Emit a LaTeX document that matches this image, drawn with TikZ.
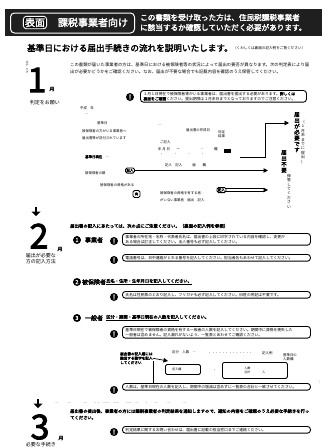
\documentclass[tikz,border=0pt]{standalone}
\usepackage{fontspec}
\setmainfont{Noto Sans CJK JP}[AutoFakeBold=2.5]
\XeTeXlinebreaklocale "ja"
\XeTeXlinebreakskip=0pt plus 0.5pt
\usetikzlibrary{arrows.meta,calc}
\begin{document}
\begin{tikzpicture}[x=1pt,y=-1pt,
 txt/.style={font=\fontsize{4.3}{6.5}\selectfont, inner sep=0pt, anchor=north west, align=left},
 tiny/.style={font=\fontsize{3.4}{4.2}\selectfont, inner sep=0pt, anchor=north west, align=left},
 note/.style={draw, line width=0.9pt, rounded corners=3pt, inner xsep=3pt, inner ysep=1.6pt, anchor=north west, font=\fontsize{3.8}{5}\selectfont, align=left, text width=182pt},
 bang/.style={circle, fill=black, text=white, inner sep=0pt, minimum size=8pt, font=\fontsize{6.5}{6.5}\bfseries\selectfont},
 num/.style={circle, fill=black, text=white, inner sep=0pt, minimum size=8pt, font=\fontsize{5.5}{5.5}\bfseries\selectfont},
 bignum/.style={font=\fontsize{34}{34}\bfseries\selectfont, inner sep=0pt},
 steplbl/.style={font=\fontsize{5}{6}\selectfont, inner sep=0pt, align=center},
 vert/.style={font=\fontsize{5.5}{5.9}\bfseries\selectfont, inner sep=0pt, align=center, anchor=north},
 vsmall/.style={font=\fontsize{3.8}{4.4}\selectfont, inner sep=0pt, align=center, anchor=north},
 smallbox/.style={draw, line width=0.9pt, rounded corners=1.5pt, inner sep=1pt, font=\fontsize{3.5}{4}\bfseries\selectfont},
 arr/.style={-{Triangle[length=4.5pt,width=4.5pt]}, line width=0.9pt},
 downarr/.style={fill=black}]
\useasboundingbox (0,0) rectangle (328,448);
\fill[white] (0,0) rectangle (328,448);

% ---------- header ----------
\node[fill=black!88, minimum width=317pt, minimum height=27pt, anchor=north west, inner sep=0pt] (hdr) at (5,9) {};
\node[draw=white, line width=1pt, rounded corners=4pt, minimum width=124pt, minimum height=20pt, anchor=north west, inner sep=0pt] (hbox) at (10,12.5) {};
\node[draw=white, fill=black, line width=0.9pt, rounded corners=3pt, text=white, font=\fontsize{10}{10}\bfseries\selectfont, inner sep=1.6pt] (omote) at (35,22.5) {表面};
\node[text=white, font=\fontsize{10}{10}\bfseries\selectfont, inner sep=0pt] (kazei) at (93,22.5) {課税事業者向け};
\node[text=white, font=\fontsize{7.6}{10}\bfseries\selectfont, align=left, anchor=west, inner sep=0pt] (hdrtxt) at (140,22.5) {この書類を受け取った方は、住民税課税事業者\\に該当するか確認していただく必要があります。};

\node[font=\fontsize{8.6}{9}\bfseries\selectfont, inner sep=0pt, anchor=west] (sub) at (27,48) {基準日における届出手続きの流れを説明いたします。};
\node[font=\fontsize{3.6}{4}\selectfont, inner sep=0pt, anchor=west] (subp) at (sub.east) {（くわしくは裏面の\\記入例をご覧ください）};

% ---------- step 1 ----------
\node[vsmall, font=\fontsize{3}{3.4}\selectfont] (s1top) at (27,61) {ス\\テ\\ッ\\プ};
\node[bignum] (n1) at (37,80) {1};
\node[font=\fontsize{5}{5}\bfseries\selectfont, inner sep=0pt] (m1) at (52,89) {月};
\node[steplbl] (l1) at (45,103) {判定をお願い};

\node[txt, text width=240pt] (p1) at (70,63) {この書類が届いた事業者の方は、基準日における被保険者等の状況によって届出の要否が異なります。次の判定表により届出が必要かどうかをご確認ください。なお、届出が不要な場合でも記載内容を確認のうえ保管してください。};

\node[bang] (b1) at (130,97) {!};
\node[note, text width=160pt] (t1) at (140,90) {１月１日現在で被保険者等がいる事業者は、届出書を提出する必要があります。\textbf{詳しくは}\\\textbf{裏面をご確認}ください。提出期限は１月末日までとなっておりますのでご注意ください。};

% flow labels
\node[tiny] (f1) at (80,106) {平成　年};
\node[tiny] (f2) at (85,114) {―};
\node[tiny] (f3) at (97,121) {基準日};
\node[tiny] (f4) at (82,129) {被保険者の方がいる事業者へ};
\node[tiny] (f5) at (82,136) {届出書等が送付されています};
\node[tiny] (f6) at (158,125) {―};
\node[tiny] (f7) at (186,128) {届出書の作成日};
\node[tiny] (f8) at (218,130) {判定\\結果};
\node[tiny] (f9) at (160,140) {ご記入};
\node[tiny] (f10) at (158,147) {年 月 日　　一　　　　　　―　　　欄};
\node[tiny] (f11) at (160,154) {・　　　・　　　・　　　・　　};
\node[fill=black, minimum width=7pt, minimum height=4pt, inner sep=0pt] (f12) at (227,151) {};
\node[tiny] (f13) at (165,163) {記入　記入　　　届　　欄};
\node[tiny] (f14) at (85,155) {\textbf{基準日現在}　―};
\node[tiny] (f15) at (85,171) {被保険者の数};
\node[tiny] (f16) at (100,183) {被保険者の資格がある};
\node[tiny] (f17) at (160,191) {被保険者の資格を有する者};
\node[tiny] (f18) at (160,198) {がいない事業者　届出　記入};

\node[smallbox] (bx1) at (130,170.5) {記入};
\node[smallbox, minimum width=7pt, minimum height=7pt] (bx2) at (136.5,194) {有};
\node[smallbox] (bx3) at (221.5,190) {記入};

% vertical result labels
\node[vert] (v1) at (297,112) {届\\出\\が\\必\\要\\で\\す};
\node[vsmall] (v1b) at (303,120) {（\\１\\月\\末\\ま\\で\\に\\提\\出\\）};
\node[vert] (v2) at (284,150) {届\\出\\不\\要};
\node[vsmall] (v2b) at (289,174) {保\\管\\し\\て\\く\\だ\\さ\\い};

\coordinate (c1) at (240,157);
\coordinate (c2) at (265,157);
\coordinate (c3) at (265,123);
\coordinate (c4) at (289,123);
\draw[line width=0.9pt] (c1) -- (c2) -- (c3);
\draw[arr] (c3) -- (c4);
\coordinate (e1) at (268,170.5);
\draw[arr] (bx1.east) -- (e1);
\coordinate (e2) at (268,190);
\draw[line width=0.8pt] ($(bx3.east)+(0,-1.3)$) -- ($(e2)+(-4,-1.3)$);
\draw[line width=0.8pt] ($(bx3.east)+(0,1.3)$) -- ($(e2)+(-4,1.3)$);
\draw[arr] ($(e2)+(-4,0)$) -- (e2);

% ---------- step 2 ----------
\coordinate (da2) at (36,212);
\fill[downarr] ($(da2)+(-1.3,-5)$) rectangle ($(da2)+(1.3,0)$);
\fill[downarr] ($(da2)+(-4.5,-0.5)$) -- ($(da2)+(4.5,-0.5)$) -- ($(da2)+(0,4)$) -- cycle;
\node[bignum] (n2) at (39,236) {2};
\node[font=\fontsize{5}{5}\bfseries\selectfont, inner sep=0pt] (m2) at (60,249) {月};
\node[steplbl] (l2) at (41,259) {届出が必要な\\方の記入方法};

\node[font=\fontsize{4.4}{5}\bfseries\selectfont, inner sep=0pt, anchor=west] (h2) at (70,226) {届出書の記入にあたっては、次の点にご注意ください。（裏面の記入例を参照）};

\node[num] (k1) at (77,240) {1};
\node[font=\fontsize{6}{6}\bfseries\selectfont, inner sep=0pt] (k1t) at (94,240) {事業者};
\node[bang] (b2) at (114,241) {!};
\node[note] (t2) at (122,233) {事業者の所在地・名称・代表者氏名は、届出書の上段に印字されている内容を確認し、変更が\\ある場合は訂正してください。法人番号も必ず記入してください。};
\node[bang] (b3) at (114,260) {!};
\node[note] (t3) at (122,254) {電話番号は、日中連絡がとれる番号を記入してください。担当者名もあわせて記入してください。};

\node[num] (k2) at (77,282) {2};
\node[font=\fontsize{6}{6}\bfseries\selectfont, inner sep=0pt] (k2t) at (94,282) {被保険者};
\node[font=\fontsize{4.3}{5}\bfseries\selectfont, inner sep=0pt, anchor=west] (k2u) at (106,282) {\underline{氏名・住所・生年月日を記入してください。}};
\node[bang] (b4) at (114,297) {!};
\node[note] (t4) at (122,291) {氏名は住民票のとおり記入し、フリガナも必ず記入してください。旧姓の併記は不要です。};

\node[num] (k3) at (77,318) {3};
\node[font=\fontsize{6}{6}\bfseries\selectfont, inner sep=0pt] (k3t) at (94,318) {一般者};
\node[font=\fontsize{4.3}{5}\bfseries\selectfont, inner sep=0pt, anchor=west] (k3u) at (106,318) {\underline{区分・期間・基準日現在の人数を記入}してください。};
\node[bang] (b5) at (114,334) {!};
\node[note] (t5) at (122,326) {基準日現在で被保険者の資格を有する一般者の人数を記入してください。期間中に資格を喪失した\\一般者は含めません。記入漏れがないよう、一覧表とあわせてご確認ください。};

% form-like detail
\node[tiny, font=\fontsize{3.6}{4.4}\bfseries\selectfont] (g1) at (120,352) {届出書の記入欄には\\該当する数字を記入\\してください};
\node[tiny] (g2) at (172,350) {区分　人数　―};
\node[tiny] (g3) at (208,353) {・・・・・・・・・・・・・};
\node[tiny] (g4) at (262,351) {記入例};
\node[tiny] (g5) at (283,353) {基準日の\\人数欄};
\node[smallbox, minimum width=35pt, minimum height=10pt, font=\fontsize{3}{3.5}\selectfont, anchor=north west] (bx4) at (165,364) {記入欄　　　　};
\node[draw, line width=0.9pt, rounded corners=2pt, minimum width=65pt, minimum height=16pt, anchor=north west, inner sep=1pt, font=\fontsize{3}{4}\selectfont, align=left] (bx5) at (222,362) {人数\\合計　　　　人};
\node[tiny] (g6) at (213,370) {・};
\coordinate (g7) at (168,361);
\draw[arr, line width=0.7pt] ($(g1.east)+(0,0)$) -- (g7);
\node[bang] (b6) at (114,390) {!};
\node[note] (t6) at (122,383) {人数は、基準日現在の人数を記入し、期間中の増減は含めずに一覧表の合計と一致させてください。};
\coordinate (g8) at (153,361);
\draw[line width=0.8pt] (g8) -- (g8 |- t6.north);
\node[tiny] (g9) at (318,381) {：};

% separator dashes
\node[tiny, font=\fontsize{3.2}{4}\selectfont, anchor=west] (sep) at (55,404) {―　　　―　　　　―　　・・　――　――　　――　―　　・　　―　　　―　　　　―};

% ---------- step 3 ----------
\coordinate (da3) at (38,404);
\fill[downarr] ($(da3)+(-1.3,-5)$) rectangle ($(da3)+(1.3,0)$);
\fill[downarr] ($(da3)+(-4.5,-0.5)$) -- ($(da3)+(4.5,-0.5)$) -- ($(da3)+(0,4)$) -- cycle;
\node[bignum] (n3) at (40,427) {3};
\node[font=\fontsize{5}{5}\bfseries\selectfont, inner sep=0pt] (m3) at (61,438) {月};
\node[steplbl] (l3) at (41,445) {必要な手続き};

\node[txt, text width=240pt, font=\fontsize{4.3}{6.5}\bfseries\selectfont] (p3) at (70,409) {届出書の提出後、事業者の方には課税事業者の判定結果を通知しますので、通知の内容をご確認のうえ必要な手続きを行ってください。};
\node[bang] (b7) at (114,432) {!};
\node[note] (t7) at (122,426) {判定結果に関するお問い合わせは、届出書に記載の担当窓口までご連絡ください。};
\end{tikzpicture}
\end{document}
